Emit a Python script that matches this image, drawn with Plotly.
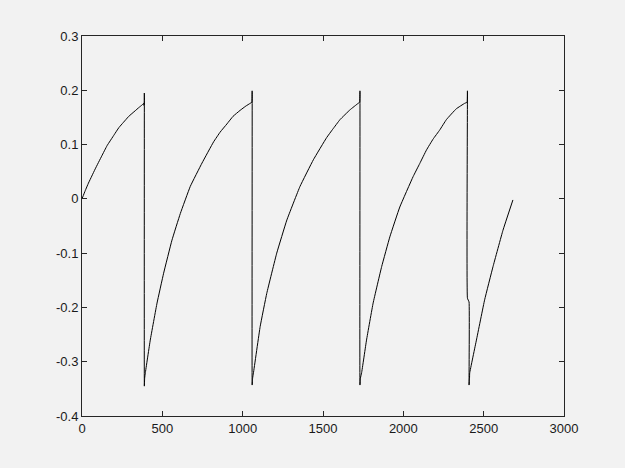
import plotly.graph_objects as go

# Signal samples (x = sample index, y = value)
x_vals = [
    0, 20, 40, 61, 82, 123, 156, 200, 229, 273, 291, 330, 353, 374, 384, 386, 388, 388, 388, 390,
    394, 425, 467, 508, 560, 612, 674, 747, 819, 860, 902, 940, 984, 1020, 1047, 1057, 1059, 1059, 1062,
    1067, 1109, 1150, 1212, 1275, 1357, 1440, 1523, 1560, 1606, 1668, 1719, 1728, 1730, 1730, 1733,
    1740, 1771, 1812, 1865, 1916, 1978, 2061, 2102, 2144, 2185, 2227, 2268, 2330, 2382, 2397, 2399, 2399, 2409, 2409, 2412,
    2413, 2455, 2506, 2558, 2620, 2682,
]
y_vals = [
    0.0, 0.015, 0.029, 0.042, 0.055, 0.079, 0.098, 0.118, 0.131, 0.146, 0.152, 0.162, 0.168, 0.173, 0.176, 0.172, 0.178, 0.195, -0.345, -0.330,
    -0.321, -0.260, -0.192, -0.137, -0.076, -0.027, 0.023, 0.066, 0.105, 0.123, 0.138, 0.152, 0.163, 0.171, 0.176, 0.178, 0.199, -0.343, -0.330,
    -0.321, -0.235, -0.174, -0.100, -0.039, 0.023, 0.072, 0.113, 0.128, 0.146, 0.164, 0.176, 0.178, 0.199, -0.343, -0.330,
    -0.321, -0.260, -0.192, -0.125, -0.070, -0.015, 0.041, 0.065, 0.090, 0.110, 0.127, 0.146, 0.166, 0.176, 0.178, 0.199, -0.183, -0.190, -0.343, -0.330,
    -0.321, -0.260, -0.186, -0.125, -0.058, -0.002,
]

x_ticks = [0, 500, 1000, 1500, 2000, 2500, 3000]
x_tick_text = ["0", "500", "1000", "1500", "2000", "2500", "3000"]
y_ticks = [-0.4, -0.3, -0.2, -0.1, 0, 0.1, 0.2, 0.3]
y_tick_text = ["-0.4", "-0.3", "-0.2", "-0.1", "0", "0.1", "0.2", "0.3"]

fig = go.Figure()
fig.add_trace(go.Scatter(
    x=x_vals, y=y_vals, mode="lines",
    line=dict(color="#000000", width=1, shape="spline", smoothing=0.3),
    showlegend=False,
))

bg = "#f2f2f2"
axis_common = dict(
    showgrid=False, zeroline=False, showline=True, linecolor="#262626", linewidth=1,
    mirror="ticks", ticks="inside", ticklen=5, tickcolor="#262626", tickwidth=1,
    tickfont=dict(family="Liberation Sans, Arial, sans-serif", size=13, color="#1a1a1a"),
)

fig.update_layout(
    width=625, height=468,
    margin=dict(l=74, r=69, t=28, b=60),
    paper_bgcolor=bg, plot_bgcolor=bg,
    xaxis=dict(range=[0, 3000], tickvals=x_ticks, ticktext=x_tick_text, **axis_common),
    yaxis=dict(range=[-0.4, 0.3], tickvals=y_ticks, ticktext=y_tick_text, **axis_common),
)

fig.write_html(
    "out.html",
    config={"displayModeBar": False},
    post_script="document.body.style.background='#f2f2f2';",
)
